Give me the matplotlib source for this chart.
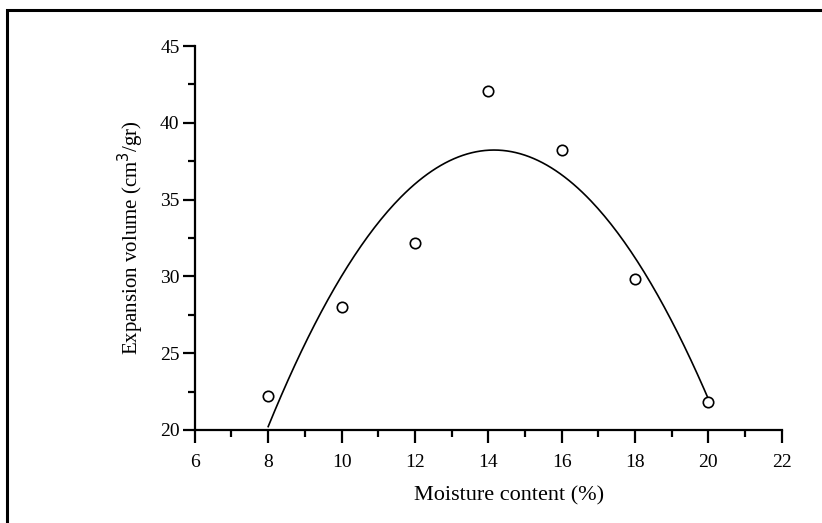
import matplotlib
matplotlib.use('Agg')
import matplotlib.pyplot as plt
import numpy as np
from matplotlib.ticker import MultipleLocator
from matplotlib.patches import Rectangle

# moisture content (%) and measured expansion volume (cm3/gr)
moisture = [8, 10, 12, 14, 16, 18, 20]
expansion = [22.2, 28.0, 32.2, 42.1, 38.2, 29.8, 21.8]

plt.rcParams['font.family'] = ['Liberation Serif', 'DejaVu Serif']

fig = plt.figure(figsize=(8.22, 5.23), dpi=100)
ax = fig.add_axes([0.237, 0.178, 0.714, 0.734])

# second order fit through the measurements
coef = np.polyfit(moisture, expansion, 2)
xf = np.linspace(min(moisture), max(moisture), 200)
ax.plot(xf, np.polyval(coef, xf), color='black', lw=1.2, zorder=2)

ax.plot(moisture, expansion, 'o', mfc='white', mec='black', mew=1.2,
        ms=7.5, zorder=3, clip_on=False)

ax.set_xlim(6, 22)
ax.set_ylim(20, 45)
ax.xaxis.set_major_locator(MultipleLocator(2))
ax.xaxis.set_minor_locator(MultipleLocator(1))
ax.yaxis.set_major_locator(MultipleLocator(5))
ax.yaxis.set_minor_locator(MultipleLocator(2.5))

for side in ('top', 'right'):
    ax.spines[side].set_visible(False)
for side in ('left', 'bottom'):
    ax.spines[side].set_linewidth(1.6)

ax.tick_params(which='major', direction='out', length=9, width=1.6,
               labelsize=14)
ax.tick_params(which='minor', direction='out', length=5, width=1.6)
ax.tick_params(axis='x', pad=8)
ax.tick_params(axis='y', pad=2)

ax.set_xlabel('Moisture content (%)', fontsize=16)
ax.xaxis.set_label_coords(0.536, -0.148)
ax.set_ylabel('Expansion volume (cm$^3$/gr)', fontsize=15, labelpad=10)

# frame around the whole figure
fig.patches.append(Rectangle((7 / 822, -0.1), 1.2, 1 - 10 / 523 + 0.1,
                             transform=fig.transFigure, fill=False,
                             lw=2.2, edgecolor='black'))

fig.savefig('out.png', dpi=100)
